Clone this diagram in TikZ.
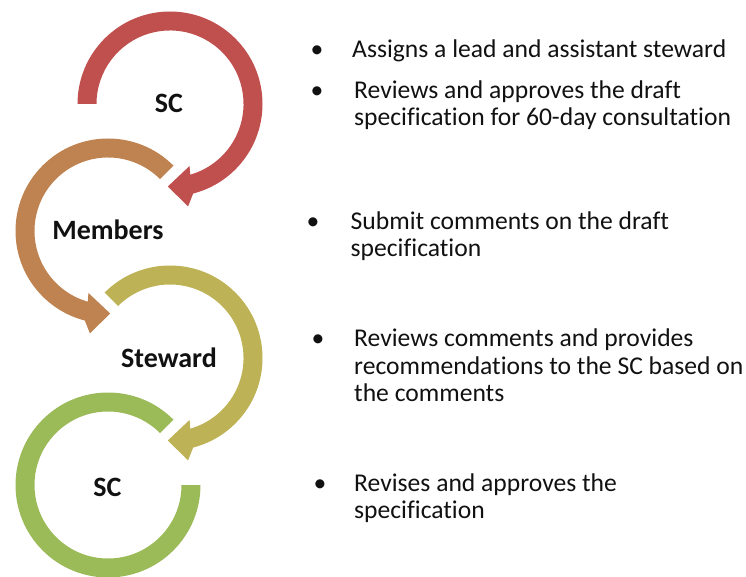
\documentclass[tikz,border=0pt]{standalone}
\usepackage{fontspec}
\setmainfont{Carlito}[Ligatures=NoCommon]
\definecolor{stepred}{HTML}{C0504D}
\definecolor{steporange}{HTML}{BE8351}
\definecolor{stepolive}{HTML}{BDB255}
\definecolor{stepgreen}{HTML}{9BBB59}
\definecolor{bodytext}{HTML}{111111}
\tikzset{
  ringlabel/.style={anchor=base, inner sep=0pt, text=bodytext, font=\bfseries\fontsize{28}{30}\selectfont},
  % multi-line notes are placed by the baseline of their last line
  notetext/.style={anchor=base west, inner sep=0pt, align=left, text=bodytext, font=\fontsize{25.6}{27.2}\selectfont},
  notebullet/.style={anchor=base, inner sep=0pt, text=bodytext, font=\fontsize{25.6}{27.2}\selectfont},
}
% ring geometry: outer radius, inner radius
\def\Ro{92.5}
\def\Ri{73.5}
\begin{document}
\begin{tikzpicture}[x=1pt,y=1pt]
\useasboundingbox (0,0) rectangle (746,576);

% clockwise arrow ring (head at the bottom, pointing left)
\newcommand{\cwring}[3]{%
  \begin{scope}[shift={#1}]
    \fill[#3] (#2:\Ro) arc[start angle=#2, end angle=-75.5, radius=\Ro]
      -- (-80:104) -- (-91.5:82.5) -- (-72.5:65) -- (-74:\Ri)
      arc[start angle=-74, end angle=#2, radius=\Ri] -- cycle;
  \end{scope}}
% counter-clockwise arrow ring (head at the bottom, pointing right)
\newcommand{\ccwring}[3]{%
  \begin{scope}[shift={#1}]
    \fill[#3] (#2:\Ro) arc[start angle=#2, end angle=255.5, radius=\Ro]
      -- (260:104) -- (271.5:82.5) -- (252.5:65) -- (254:\Ri)
      arc[start angle=254, end angle=#2, radius=\Ri] -- cycle;
  \end{scope}}

\cwring{(170,472)}{180}{stepred}
\ccwring{(108,345)}{45}{steporange}
\cwring{(170,218)}{135}{stepolive}
% last ring, open on the right, no head
\begin{scope}[shift={(108,91)}]
  \fill[stepgreen] (45:\Ro) arc[start angle=45, end angle=360, radius=\Ro]
    -- (0:\Ri) arc[start angle=360, end angle=45, radius=\Ri] -- cycle;
\end{scope}

% ring labels
\node[ringlabel] (sc1) at (169,463) {SC};
\node[ringlabel] (members) at (108,336) {Members};
\node[ringlabel] (steward) at (169,208.7) {Steward};
\node[ringlabel] (sc2) at (107.5,79.3) {SC};

% notes
\node[notebullet] (b1) at (317,518.7) {•};
\node[notetext] (t1) at (352,518.7) {Assigns a lead and assistant steward};
\node[notebullet] (b2) at (317,477.7) {•};
\node[notetext] (t2) at (354,450.6) {Reviews and approves the draft\\specification for 60-day consultation};
\node[notebullet] (b3) at (313,346.7) {•};
\node[notetext] (t3) at (350.5,319.4) {Submit comments on the draft\\specification};
\node[notebullet] (b4) at (318,229.3) {•};
\node[notetext] (t4) at (354,174.8) {Reviews comments and provides\\recommendations to the SC based on\\the comments};
\node[notebullet] (b5) at (320,84.3) {•};
\node[notetext] (t5) at (354,57.6) {Revises and approves the\\specification};
\end{tikzpicture}
\end{document}
